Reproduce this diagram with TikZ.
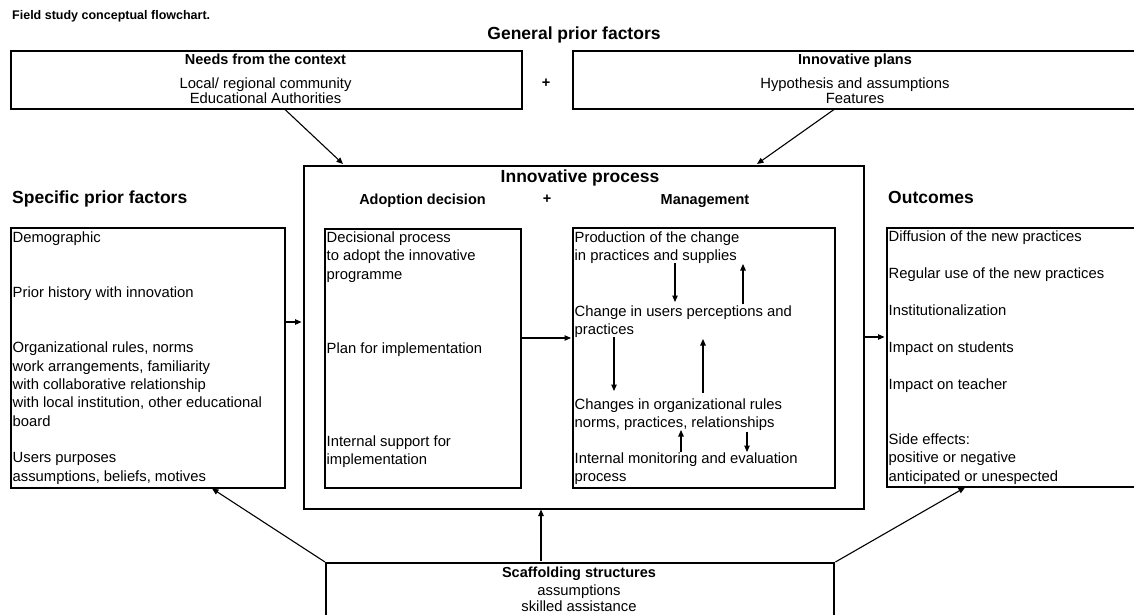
\documentclass[tikz,border=0pt]{standalone}
\usepackage{fontspec}
\setmainfont{Liberation Sans}
\usetikzlibrary{arrows.meta}
\begin{document}
\begin{tikzpicture}[x=1pt,y=-1pt,
  box/.style={draw, line width=2.4pt, inner sep=0pt, anchor=north west},
  ibox/.style={draw, line width=2pt, inner sep=0pt, anchor=north west},
  body/.style={font=\fontsize{14.8}{18}\selectfont, inner sep=0pt, anchor=base west},
  bodyc/.style={body, anchor=base},
  head/.style={font=\bfseries\fontsize{14.5}{18}\selectfont, inner sep=0pt, anchor=base},
  big/.style={font=\bfseries\fontsize{17.5}{21}\selectfont, inner sep=0pt},
  plus/.style={font=\bfseries\fontsize{14.5}{18}\selectfont, inner sep=0pt},
  arr/.style={-{Triangle[length=6.5pt,width=5.5pt]}, line width=1.1pt},
]
\clip (0,0) rectangle (1134,614);
\fill[white] (0,0) rectangle (1134,614);

% title
\node[font=\bfseries\fontsize{12.5}{15}\selectfont, inner sep=0pt, anchor=base west] (title) at (12,19) {Field study conceptual flowchart.};
\node[big, anchor=base] (gpf) at (574,39) {General prior factors};

% general prior factors boxes
\node[box, minimum width=511pt, minimum height=58pt] (needs) at (10,50) {};
\node[head] (needsh) at (265.5,64.5) {Needs from the context};
\node[bodyc] (needs1) at (265.5,88) {Local/ regional community};
\node[bodyc] (needs2) at (265.5,103.5) {Educational Authorities};
\node[plus] (plus1) at (546,83) {+};
\node[box, minimum width=568pt, minimum height=58pt] (plans) at (572,50) {};
\node[head] (plansh) at (855,64.5) {Innovative plans};
\node[bodyc] (plans1) at (855,88) {Hypothesis and assumptions};
\node[bodyc] (plans2) at (855,103.5) {Features};

% section headings
\node[big, anchor=base west] (spf) at (12,203) {Specific prior factors};
\node[big, anchor=base west] (outh) at (888,203) {Outcomes};

% innovative process
\node[box, minimum width=560pt, minimum height=343pt] (proc) at (303,165) {};
\node[big, anchor=base] (proch) at (580,182) {Innovative process};
\node[head] (adh) at (422.5,204) {Adoption decision};
\node[plus] (plus2) at (547,199) {+};
\node[head] (mgh) at (705,204) {Management};

% boxes
\node[box, minimum width=274pt, minimum height=260pt] (spec) at (10,227) {};
\node[ibox, minimum width=196pt, minimum height=259pt] (adopt) at (324,228) {};
\node[ibox, minimum width=262pt, minimum height=260pt] (mgmt) at (572,227) {};
\node[box, minimum width=254pt, minimum height=259pt] (outc) at (886,227) {};
\node[box, minimum width=508pt, minimum height=80pt] (scaf) at (325,562) {};

% specific prior factors text
\node[body] (s1) at (12.5,242) {Demographic};
\node[body] (s2) at (12.5,297.5) {Prior history with innovation};
\node[body] (s3) at (12.5,352.5) {Organizational rules, norms};
\node[body] (s4) at (12.5,371) {work arrangements, familiarity};
\node[body] (s5) at (12.5,389) {with collaborative relationship};
\node[body] (s6) at (12.5,407.5) {with local institution, other educational};
\node[body] (s7) at (12.5,426) {board};
\node[body] (s8) at (12.5,462.5) {Users purposes};
\node[body] (s9) at (12.5,481) {assumptions, beliefs, motives};

% adoption text
\node[body] (d1) at (326.5,242) {Decisional process};
\node[body] (d2) at (326.5,260.5) {to adopt the innovative};
\node[body] (d3) at (326.5,279) {programme};
\node[body] (d4) at (326.5,353) {Plan for implementation};
\node[body] (d5) at (326.5,446) {Internal support for};
\node[body] (d6) at (326.5,464.5) {implementation};

% management text
\node[body] (m1) at (574.5,242.5) {Production of the change};
\node[body] (m2) at (574.5,260.5) {in practices and supplies};
\node[body] (m3) at (574.5,316.5) {Change in users perceptions and};
\node[body] (m4) at (574.5,334.5) {practices};
\node[body] (m5) at (574.5,409.5) {Changes in organizational rules};
\node[body] (m6) at (574.5,427) {norms, practices, relationships};
\node[body] (m7) at (574.5,463.5) {Internal monitoring and evaluation};
\node[body] (m8) at (574.5,481.5) {process};

% outcomes text
\node[body] (o1) at (888.5,241.5) {Diffusion of the new practices};
\node[body] (o2) at (888.5,278.5) {Regular use of the new practices};
\node[body] (o3) at (888.5,315.5) {Institutionalization};
\node[body] (o4) at (888.5,352.5) {Impact on students};
\node[body] (o5) at (888.5,389.5) {Impact on teacher};
\node[body] (o6) at (888.5,444.5) {Side effects:};
\node[body] (o7) at (888.5,462.5) {positive or negative};
\node[body] (o8) at (888.5,481.5) {anticipated or unespected};

% scaffolding text
\node[head] (sch) at (579,577) {Scaffolding structures};
\node[bodyc] (sc1) at (579,595) {assumptions};
\node[bodyc] (sc2) at (579,611) {skilled assistance};

% connector end points
\coordinate (a1s) at (285,109.5);  \coordinate (a1e) at (343,164);
\coordinate (a2s) at (834,109.5);  \coordinate (a2e) at (757,164);
\coordinate (a3s) at (285.5,322);  \coordinate (a3e) at (301.5,322);
\coordinate (a4s) at (521,338);    \coordinate (a4e) at (571,338);
\coordinate (a5s) at (864.5,337);  \coordinate (a5e) at (884.5,337);
\coordinate (a6s) at (541,560.5);  \coordinate (a6e) at (541,509.5);
\coordinate (a7e) at (212,488.5);
\coordinate (a8e) at (965,487.5);
\draw[arr] (a1s) -- (a1e);
\draw[arr] (a2s) -- (a2e);
\draw[arr] (a3s) -- (a3e);
\draw[arr] (a4s) -- (a4e);
\draw[arr] (a5s) -- (a5e);
\draw[arr] (a6s) -- (a6e);
\draw[arr] (scaf.north west) -- (a7e);
\draw[arr] (scaf.north east) -- (a8e);

% management internal arrows
\coordinate (b1s) at (675,263); \coordinate (b1e) at (675,302);
\coordinate (b2s) at (743,304); \coordinate (b2e) at (743,264);
\coordinate (b3s) at (614,337); \coordinate (b3e) at (614,391);
\coordinate (b4s) at (703,393); \coordinate (b4e) at (703,339);
\coordinate (b5s) at (681,452); \coordinate (b5e) at (681,430);
\coordinate (b6s) at (747,432); \coordinate (b6e) at (747,452);
\foreach \s/\e in {b1s/b1e,b2s/b2e,b3s/b3e,b4s/b4e,b5s/b5e,b6s/b6e}
  \draw[arr] (\s) -- (\e);
\end{tikzpicture}
\end{document}
